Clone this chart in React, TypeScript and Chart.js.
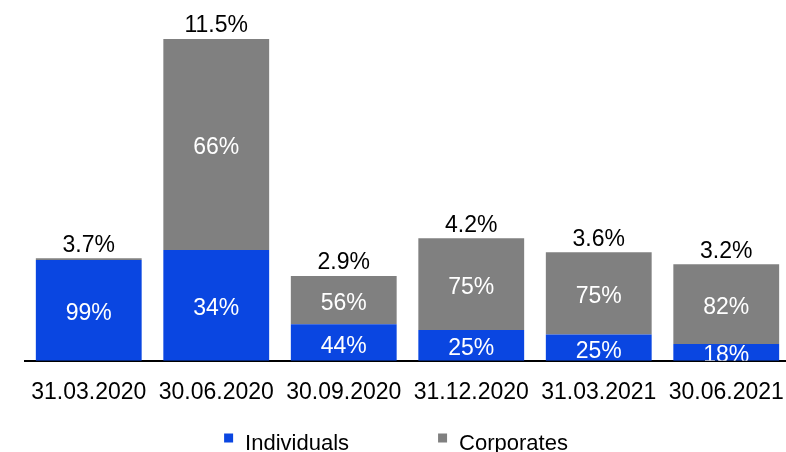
import { useEffect, useRef } from 'react';
import { Chart, registerables } from 'chart.js';

Chart.register(...registerables);

const categories = ['31.03.2020', '30.06.2020', '30.09.2020', '31.12.2020', '31.03.2021', '30.06.2021'];
const individuals = [3.6, 3.96, 1.3, 1.1, 0.94, 0.6];
const corporates = [0.06, 7.54, 1.73, 3.28, 2.94, 2.85];
const totalLabels = ['3.7%', '11.5%', '2.9%', '4.2%', '3.6%', '3.2%'];
const individualShares = [99, 34, 44, 25, 25, 18];
const corporateShares = [1, 66, 56, 75, 75, 82];

const BLUE = '#0A46E1';
const GRAY = '#808080';
const FONT = '"Liberation Sans", Arial, sans-serif';

const labelsPlugin = {
  id: 'barLabels',
  afterDatasetsDraw(chart: any) {
    const ctx = chart.ctx;
    const area = chart.chartArea;
    const shares = [individualShares, corporateShares];
    ctx.save();
    ctx.font = `23px ${FONT}`;
    ctx.textAlign = 'center';
    ctx.textBaseline = 'alphabetic';
    chart.data.datasets.forEach((_ds: any, di: number) => {
      const meta = chart.getDatasetMeta(di);
      meta.data.forEach((bar: any, i: number) => {
        const share = shares[di][i];
        if (share < 5) return;
        const p = bar.getProps(['x', 'y', 'base'], true);
        const cy = (p.y + p.base) / 2;
        ctx.save();
        ctx.beginPath();
        ctx.rect(area.left, 0, area.right - area.left, area.bottom);
        ctx.clip();
        ctx.fillStyle = '#ffffff';
        ctx.fillText(share + '%', p.x, cy + 10);
        ctx.restore();
      });
    });
    const topMeta = chart.getDatasetMeta(1);
    ctx.fillStyle = '#000000';
    topMeta.data.forEach((bar: any, i: number) => {
      const p = bar.getProps(['x', 'y'], true);
      ctx.fillText(totalLabels[i], p.x, p.y - 6.5);
    });
    ctx.restore();
  },
};

const legendPlugin = {
  id: 'customLegend',
  afterDraw(chart: any) {
    const ctx = chart.ctx;
    ctx.save();
    ctx.font = `22px ${FONT}`;
    ctx.textAlign = 'left';
    ctx.textBaseline = 'alphabetic';
    const box = 9;
    const gapText = 12;
    const gapItem = 89;
    const items = chart.data.datasets.map((ds: any) => ({
      label: ds.label,
      color: ds.backgroundColor,
      w: ctx.measureText(ds.label).width,
    }));
    const total =
      items.reduce((s: number, it: any) => s + box + gapText + it.w, 0) + gapItem * (items.length - 1);
    let x = chart.width / 2 - total / 2;
    const baseY = chart.height - 2.5;
    items.forEach((it: any) => {
      ctx.fillStyle = it.color;
      ctx.fillRect(x, baseY - 16, box, box);
      x += box + gapText;
      ctx.fillStyle = '#000000';
      ctx.fillText(it.label, x, baseY);
      x += it.w + gapItem;
    });
    ctx.restore();
  },
};

export default function App() {
  const ref = useRef<HTMLCanvasElement>(null);

  useEffect(() => {
    if (!ref.current) return;
    const chart = new Chart(ref.current, {
      type: 'bar',
      data: {
        labels: categories,
        datasets: [
          {
            label: 'Individuals',
            data: individuals,
            backgroundColor: BLUE,
            borderWidth: 0,
            barPercentage: 0.83,
            categoryPercentage: 1,
          },
          {
            label: 'Corporates',
            data: corporates,
            backgroundColor: GRAY,
            borderWidth: 0,
            barPercentage: 0.83,
            categoryPercentage: 1,
          },
        ],
      },
      options: {
        animation: false,
        responsive: false,
        devicePixelRatio: 1,
        layout: { padding: { left: 25, top: 25, right: 2, bottom: 0 } },
        plugins: {
          legend: { display: false },
          tooltip: { enabled: false },
        },
        scales: {
          x: {
            stacked: true,
            z: 1,
            grid: { display: false, drawTicks: false },
            border: { display: true, color: '#000000', width: 2 },
            ticks: {
              color: '#000000',
              font: { family: FONT, size: 23 },
              padding: 18,
              maxRotation: 0,
              autoSkip: false,
            },
            afterFit(scale: any) {
              scale.height = 91.3;
              scale.paddingLeft = 0;
              scale.paddingRight = 0;
            },
          },
          y: {
            stacked: true,
            display: false,
            min: 0,
            max: 12,
          },
        },
      },
      plugins: [labelsPlugin, legendPlugin],
    });
    return () => chart.destroy();
  }, []);

  return (
    <div
      style={{
        position: 'fixed',
        left: 0,
        top: 0,
        width: 786,
        height: 452,
        overflow: 'hidden',
        background: '#ffffff',
      }}
    >
      <canvas ref={ref} width={792} height={452} style={{ display: 'block', width: 792, height: 452 }} />
    </div>
  );
}
